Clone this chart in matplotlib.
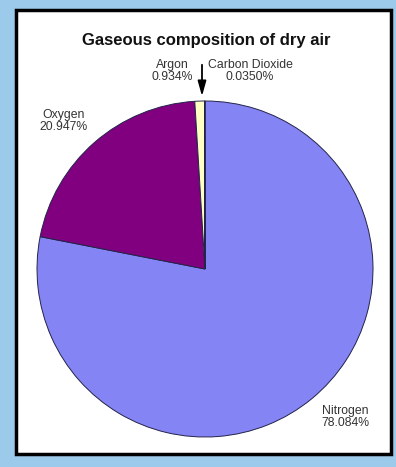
import matplotlib.pyplot as plt
from matplotlib.patches import Rectangle

# gas shares (%)
gases = ["Nitrogen", "Oxygen", "Argon", "Carbon Dioxide"]
shares = [78.084, 20.947, 0.934, 0.0350]
share_text = ["78.084%", "20.947%", "0.934%", "0.0350%"]
colors = ["#8484f4", "#800080", "#ffffc4", "#ffffc4"]

W, H = 396, 467
plt.rcParams['font.family'] = ['Liberation Sans', 'DejaVu Sans']

fig = plt.figure(figsize=(W / 100, H / 100), dpi=100)
fig.patch.set_facecolor("#9ccaea")
ax = fig.add_axes([0, 0, 1, 1])
ax.set_facecolor("none")

# panel with black frame (pixel coords, y measured from top)
def py(y):
    return H - y

ax.add_patch(Rectangle((16, py(454)), 375, 444, facecolor="white",
                       edgecolor="black", linewidth=2.5, zorder=0))

ax.pie(shares, colors=colors, startangle=90, counterclock=False,
       center=(205, py(269)), radius=168,
       wedgeprops=dict(edgecolor="#23234a", linewidth=0.7))

ax.set_xlim(0, W)
ax.set_ylim(0, H)
ax.axis("off")

ax.text(206, py(40), "Gaseous composition of dry air", ha="center",
        va="center", fontsize=12, fontweight="bold", color="#111111")

lab = dict(ha="center", va="center", fontsize=8.8, color="#333333", linespacing=1.0)
ax.text(345, py(417), gases[0] + "\n" + share_text[0], **lab)
ax.text(64, py(121), gases[1] + "\n" + share_text[1], **lab)
ax.text(172, py(71), gases[2] + "\n" + share_text[2], **lab)
ax.text(250, py(71), gases[3] + "\n" + share_text[3], **lab)

ax.annotate("", xy=(202, py(99)), xytext=(202, py(62)),
            arrowprops=dict(arrowstyle="-|>,head_width=0.25,head_length=0.9",
                            color="black", lw=1.3))

fig.savefig("out.png", dpi=100, facecolor=fig.get_facecolor())
